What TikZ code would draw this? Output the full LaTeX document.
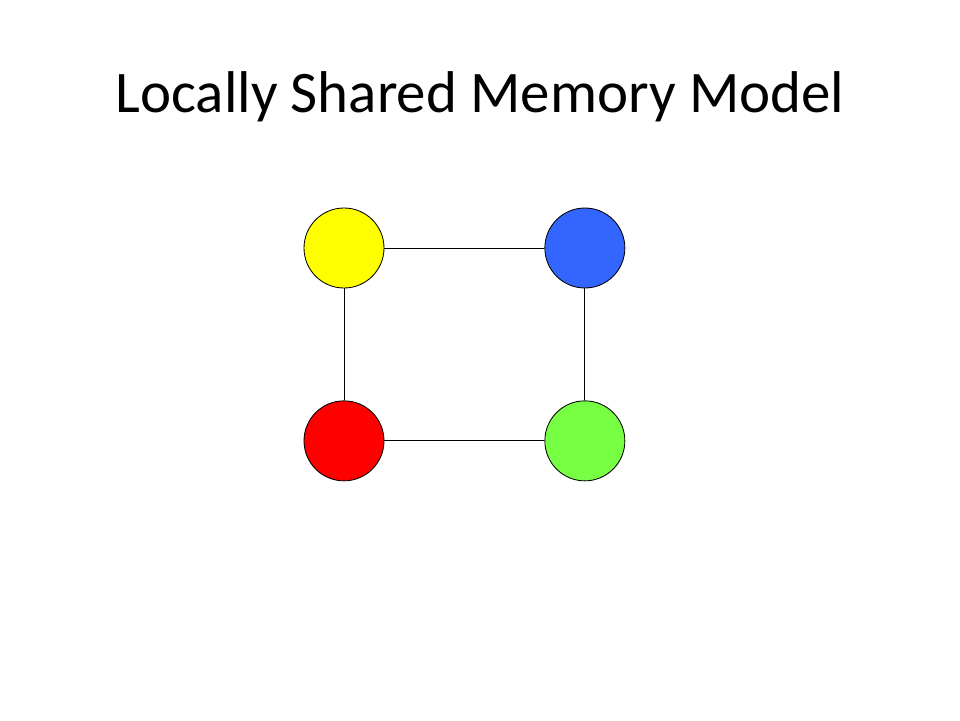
\documentclass[tikz,border=0pt]{standalone}
\usepackage{fontspec}
\setmainfont{Carlito}
\usetikzlibrary{positioning}
\definecolor{nodeyellow}{HTML}{FFFF00}
\definecolor{nodeblue}{HTML}{3366FF}
\definecolor{nodered}{HTML}{FF0000}
\definecolor{nodegreen}{HTML}{77FF44}
\begin{document}
\begin{tikzpicture}
	[node distance={4cm}, line width=0.6pt, main/.style = {draw, circle, minimum size=2cm, inner sep=0pt}]
	\useasboundingbox (0,0) rectangle (24,18);
	\node[anchor=base] (title) at (12,15.175) {\fontsize{41.9}{50}\selectfont Locally Shared Memory Model};
	\node[main, fill=nodeyellow] (1) at (8.6,11.8) {};
	\node[main, fill=nodeblue] (2) [right = of 1] {};
	\node[main, fill=nodered] (3) [below = 2.8cm of 1] {};
	\node[main, fill=nodegreen] (4) [right = of 3] {};
	\draw (1) -- (2);
	\draw (1) -- (3);
	\draw (2) -- (4);
	\draw (3) -- (4);
\end{tikzpicture}
\end{document}
